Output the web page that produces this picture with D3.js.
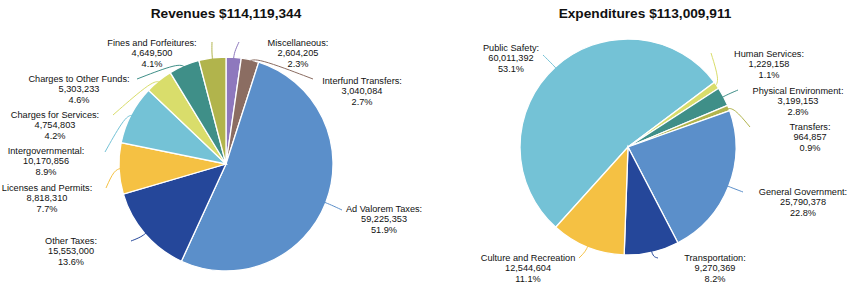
<!DOCTYPE html>
<html>
<head>
<meta charset="utf-8">
<script src="https://cdn.jsdelivr.net/npm/d3@7"></script>
<style>
  body { margin: 0; background: #fff; }
  text { font-family: "Liberation Sans", Arial, sans-serif; fill: #111; }
</style>
</head>
<body>
<div id="chart-area"></div>
<script>
// revenues
const revCategories = ["Miscellaneous:", "Interfund Transfers:", "Ad Valorem Taxes:", "Other Taxes:",
    "Licenses and Permits:", "Intergovernmental:", "Charges for Services:", "Charges to Other Funds:",
    "Fines and Forfeitures:"];
const revValues = [2604205, 3040084, 59225353, 15553000, 8818310, 10170856, 4754803, 5303233, 4649500];

// expenditures
const expCategories = ["Public Safety:", "Human Services:", "Physical Environment:", "Transfers:",
    "General Government:", "Transportation:", "Culture and Recreation"];
const expValues = [60011392, 1229158, 3199153, 964857, 25790378, 9270369, 12544604];

const revColors = ["#8e78bd", "#8b6d62", "#5b8fca", "#25479a", "#f5c143", "#74c2d6", "#d9dd6b", "#3f8f88", "#b1b44c"];
const expColors = ["#74c2d6", "#d9dd6b", "#3f8f88", "#b1b44c", "#5b8fca", "#25479a", "#f5c143"];

// label layout: [center x, first line y] and leader line end [x, y]
const revLabelPos = [[298, 43], [362, 81], [384, 209], [71, 241], [47, 188], [46, 151], [55, 115], [79, 79], [152, 43]];
const revLineEnd = [[239, 42], [313, 79], [342, 210], [131, 241], [106, 188], [105, 152], [113, 115], [137, 79], [212, 42]];
const expLabelPos = [[511, 48], [769, 54], [798, 91], [810, 127], [803, 192], [715, 258], [528, 258]];
const expLineEnd = [[543, 55], [711, 53], [738, 90], [750, 127], [743, 192], [658, 258], [579, 258]];

const w = 850;
const h = 289;

const svg = d3.select("#chart-area")
    .append("svg")
    .attr("width", w)
    .attr("height", h);

const fmt = d3.format(",");
const deg = Math.PI / 180;

const drawPie = (opts) => {
    const total = d3.sum(opts.values);
    const data = opts.values.map((v, i) => ({ name: opts.categories[i], value: v, color: opts.colors[i], i: i }));

    const pie = d3.pie()
        .sort(null)
        .value(d => d.value)
        .startAngle(opts.start * deg)
        .endAngle(opts.start * deg + 2 * Math.PI);

    const arcs = pie(data);
    const arc = d3.arc().innerRadius(0).outerRadius(opts.r);

    svg.append("text")
        .attr("x", opts.titleX)
        .attr("y", 18)
        .attr("text-anchor", "middle")
        .style("font-size", "13.7px")
        .style("font-weight", "bold")
        .text(opts.title + " $" + fmt(total));

    const g = svg.append("g")
        .attr("transform", "translate(" + opts.cx + "," + opts.cy + ")");

    g.selectAll("path.slice")
        .data(arcs)
        .enter()
        .append("path")
        .attr("class", "slice")
        .attr("d", arc)
        .attr("fill", d => d.data.color)
        .attr("stroke", "#fff")
        .attr("stroke-width", 1.3);

    // leader lines: radial stub from the edge, then over to the label
    svg.selectAll(null)
        .data(arcs)
        .enter()
        .append("path")
        .attr("fill", "none")
        .attr("stroke", d => d.data.color)
        .attr("stroke-width", 1)
        .attr("d", d => {
            const a = (d.startAngle + d.endAngle) / 2;
            const p0 = [opts.cx + (opts.r - 2) * Math.sin(a), opts.cy - (opts.r - 2) * Math.cos(a)];
            const p1 = [opts.cx + (opts.r + 5) * Math.sin(a), opts.cy - (opts.r + 5) * Math.cos(a)];
            const p2 = opts.lineEnd[d.data.i];
            return d3.line().curve(d3.curveBundle.beta(0.85))([p0, p1, p2]);
        });

    const labels = svg.selectAll(null)
        .data(arcs)
        .enter()
        .append("text")
        .attr("text-anchor", "middle")
        .style("font-size", "9.2px")
        .attr("transform", d => "translate(" + opts.labelPos[d.data.i][0] + "," + (opts.labelPos[d.data.i][1] + 3.3) + ")");

    labels.append("tspan").attr("x", 0).attr("y", 0).text(d => d.data.name);
    labels.append("tspan").attr("x", 0).attr("y", 10.2).text(d => fmt(d.data.value));
    labels.append("tspan").attr("x", 0).attr("y", 20.4).text(d => (d.data.value / total * 100).toFixed(1) + "%");
};

drawPie({
    title: "Revenues", titleX: 226,
    categories: revCategories, values: revValues, colors: revColors,
    cx: 226, cy: 164, r: 107, start: 0,
    labelPos: revLabelPos, lineEnd: revLineEnd
});

drawPie({
    title: "Expenditures", titleX: 645,
    categories: expCategories, values: expValues, colors: expColors,
    cx: 628, cy: 147, r: 108, start: -138,
    labelPos: expLabelPos, lineEnd: expLineEnd
});
</script>
</body>
</html>
